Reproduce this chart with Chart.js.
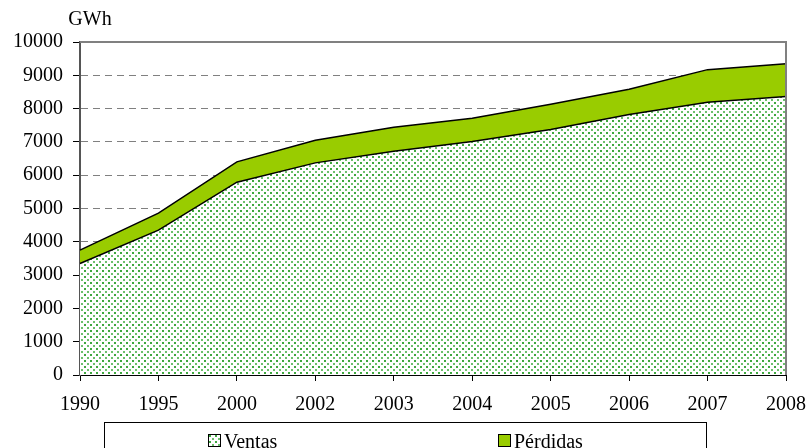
<!DOCTYPE html>
<html>
<head>
<meta charset="utf-8">
<script src="https://cdn.jsdelivr.net/npm/chart.js@4"></script>
<style>
  body { margin: 0; background: #fff; overflow: hidden; }
  #wrap { position: relative; width: 810px; height: 448px; }
  #legend {
    position: absolute; left: 104px; top: 422px; width: 601px; height: 40px;
    border: 1px solid #000; font-family: "Liberation Serif", serif; font-size: 20px; color: #000;
  }
  .item { position: absolute; top: 8px; height: 20px; line-height: 20px; white-space: nowrap; }
  .sw { display: inline-block; width: 11px; height: 11px; border: 1px solid #000; vertical-align: 1px; margin-right: 3px; }
</style>
</head>
<body>
<div id="wrap">
  <canvas id="chart" width="810" height="448"></canvas>
  <div id="legend">
    <div class="item" style="left:103px"><span class="sw" id="swVentas"></span>Ventas</div>
    <div class="item" style="left:393px"><span class="sw" style="background:#99cc00"></span>Pérdidas</div>
  </div>
</div>
<script>
const years = ['1990', '1995', '2000', '2002', '2003', '2004', '2005', '2006', '2007', '2008']
const ventas = [3350, 4350, 5790, 6370, 6720, 7010, 7370, 7820, 8190, 8360]
const perdidas = [400, 510, 610, 680, 720, 700, 760, 760, 980, 990]
const yTicks = [0, 1000, 2000, 3000, 4000, 5000, 6000, 7000, 8000, 9000, 10000]

// dotted green fill like the spreadsheet pattern
function dotPattern() {
    const c = document.createElement('canvas')
    c.width = 6
    c.height = 6
    const g = c.getContext('2d')
    g.fillStyle = '#ffffff'
    g.fillRect(0, 0, 6, 6)
    g.fillStyle = '#3fa83f'
    g.fillRect(0, 0, 2, 2)
    g.fillStyle = '#6cc06c'
    g.fillRect(3, 3, 2, 2)
    return c
}
const tile = dotPattern()
const pattern = document.getElementById('chart').getContext('2d').createPattern(tile, 'repeat')
document.getElementById('swVentas').style.background = 'url(' + tile.toDataURL() + ')'

const frame = {
    id: 'frame',
    afterDraw(chart) {
        const {ctx, chartArea} = chart
        ctx.save()
        ctx.strokeStyle = '#808080'
        ctx.lineWidth = 2
        ctx.beginPath()
        ctx.moveTo(chartArea.left, chartArea.top)
        ctx.lineTo(chartArea.right, chartArea.top)
        ctx.lineTo(chartArea.right, chartArea.bottom)
        ctx.stroke()
        ctx.fillStyle = '#000'
        ctx.font = '20px "Liberation Serif"'
        ctx.textAlign = 'center'
        ctx.textBaseline = 'middle'
        ctx.fillText('GWh', 90, 20)
        ctx.restore()
    }
}

new Chart(document.getElementById('chart'), {
    type: 'line',
    data: {
        labels: years,
        datasets: [{
            label: 'Ventas',
            data: ventas,
            backgroundColor: pattern,
            borderColor: '#000',
            borderWidth: 1.5,
            fill: 'origin',
            pointRadius: 0,
            tension: 0
        },
        {
            label: 'Pérdidas',
            data: perdidas,
            backgroundColor: '#99cc00',
            borderColor: '#000',
            borderWidth: 1.5,
            fill: '-1',
            pointRadius: 0,
            tension: 0
        }]
    },
    options: {
        responsive: false,
        animation: false,
        layout: { padding: { top: 42, right: 24, left: 0, bottom: 0 } },
        plugins: { legend: { display: false }, tooltip: { enabled: false } },
        scales: {
            x: {
                offset: false,
                afterFit: s => { s.height = 73; s.paddingLeft = 0; s.paddingRight = 0 },
                grid: { drawOnChartArea: false, tickLength: 6, tickColor: '#000', tickWidth: 1 },
                border: { color: '#000', width: 2 },
                ticks: { color: '#000', padding: 12, maxRotation: 0, font: { family: 'Liberation Serif', size: 20 } }
            },
            y: {
                stacked: true,
                min: 0,
                max: 10000,
                afterFit: s => { s.width = 80 },
                afterBuildTicks: s => { s.ticks = yTicks.map(v => ({ value: v })) },
                grid: {
                    color: c => c.tick && c.tick.value === 10000 ? 'rgba(0,0,0,0)' : '#808080',
                    lineWidth: 1,
                    tickLength: 7,
                    tickColor: '#000',
                    tickWidth: 1
                },
                border: { color: '#555', width: 2, dash: [7, 5] },
                ticks: {
                    color: '#000',
                    padding: 10,
                    font: { family: 'Liberation Serif', size: 20 },
                    callback: v => String(v)
                }
            }
        }
    },
    plugins: [frame]
})
</script>
</body>
</html>
